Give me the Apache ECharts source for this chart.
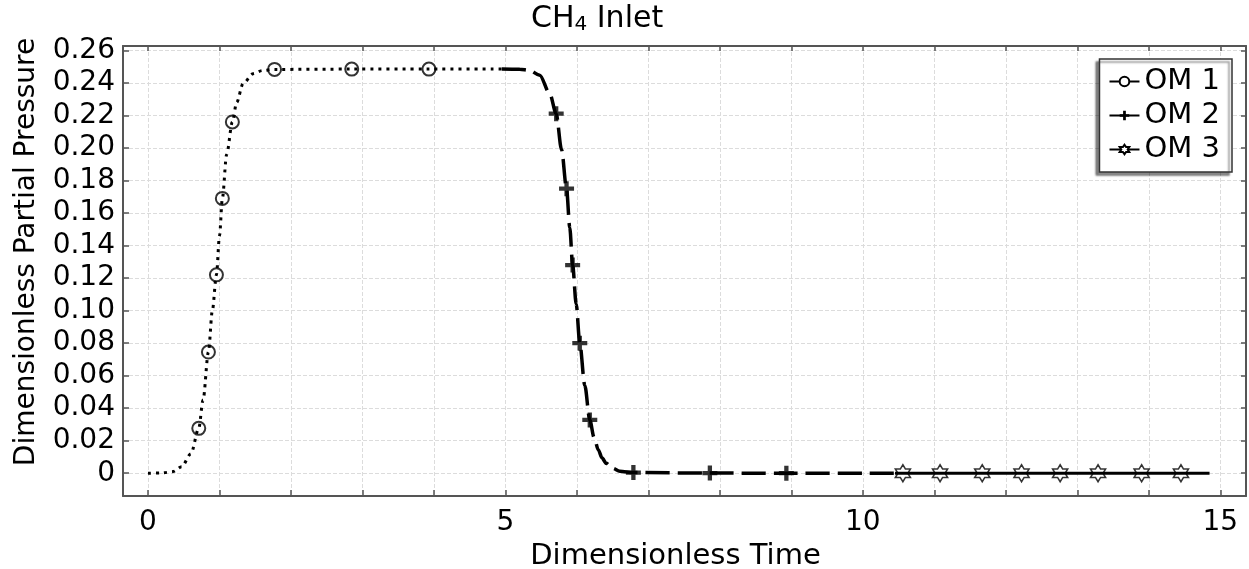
<!DOCTYPE html>
<html>
<head>
<meta charset="utf-8">
<title>CH4 Inlet</title>
<script src="https://cdn.jsdelivr.net/npm/echarts@6/dist/echarts.min.js"></script>
<style>
  html, body { margin: 0; padding: 0; background: #fff; }
  #chart { width: 1249px; height: 569px; }
</style>
</head>
<body>
<div id="chart"></div>
<script>
// series names
var seriesNames = ['OM 1', 'OM 2', 'OM 3'];

// curves: [time, partial pressure]
var om1Curve = [
  [0, 0], [0.2, 0.0002], [0.35, 0.001], [0.47, 0.004], [0.6, 0.012],
  [0.71, 0.0276], [0.77, 0.045], [0.845, 0.0745], [0.9, 0.1], [0.957, 0.122],
  [1.0, 0.146], [1.04, 0.169], [1.1, 0.196], [1.18, 0.216], [1.24, 0.228],
  [1.33, 0.2396], [1.47, 0.2457], [1.6, 0.2476], [1.77, 0.2483], [2.85, 0.2485],
  [3.93, 0.2485], [4.95, 0.2485]
];
var om2Curve = [
  [4.95, 0.2485], [5.2, 0.2484], [5.34, 0.2477], [5.48, 0.2447], [5.62, 0.2334],
  [5.71, 0.2211], [5.785, 0.199], [5.855, 0.175], [5.9, 0.151], [5.94, 0.128],
  [5.99, 0.104], [6.04, 0.08], [6.11, 0.054], [6.18, 0.0328], [6.24, 0.022],
  [6.3, 0.0143], [6.35, 0.0095], [6.41, 0.0061], [6.5, 0.003], [6.6, 0.0012],
  [6.79, 0.0004], [7.86, 0.0001], [8.93, 0], [10.45, 0]
];
var om3Curve = [
  [10.45, 0], [10.56, 0], [11.08, 0], [11.67, 0], [12.22, 0], [12.76, 0],
  [13.29, 0], [13.9, 0], [14.45, 0], [14.85, 0]
];

// which curve points carry a marker
var om1Marks = [5, 7, 9, 11, 13, 18, 19, 20];
var om2Marks = [5, 7, 9, 11, 13, 20, 21, 22];
var om3Marks = [1, 2, 3, 4, 5, 6, 7, 8];

// ticks and labels
var xTicks = [0, 1, 2, 3, 4, 5, 6, 7, 8, 9, 10, 11, 12, 13, 14, 15];
var xLabels = [0, 5, 10, 15];
var yTicks = [0, 0.02, 0.04, 0.06, 0.08, 0.1, 0.12, 0.14, 0.16, 0.18, 0.2, 0.22, 0.24, 0.26];

var FONT = '"DejaVu Sans", sans-serif';
var AXIS = '#555';
var starPath = 'path://M10,0L12.887,5L18.66,5L15.774,10L18.66,15L12.887,15L10,20L7.113,15L1.34,15L4.226,10L1.34,5L7.113,5Z';
var plusPath = 'path://M5,0H9V5H14V9H9V14H5V9H0V5H5Z';

function pick(curve, idx) {
  return idx.map(function (i) { return curve[i]; });
}

var myChart = echarts.init(document.getElementById('chart'));

var option = {
  animation: false,
  backgroundColor: '#fff',
  textStyle: { fontFamily: FONT, color: '#000' },
  title: {
    text: '{a|CH}{s|4}{a| Inlet}',
    left: 531,
    top: 3,
    padding: 0,
    textStyle: {
      fontFamily: FONT, fontSize: 30, fontWeight: 'normal', color: '#000',
      rich: {
        a: { fontFamily: FONT, fontSize: 30, lineHeight: 32, color: '#000' },
        s: { fontFamily: FONT, fontSize: 20, lineHeight: 12, verticalAlign: 'bottom', color: '#000' }
      }
    }
  },
  grid: { left: 123, right: 3, top: 46, bottom: 73, containLabel: false, outerBoundsMode: 'none' },
  legend: {
    data: seriesNames,
    orient: 'vertical',
    right: 17,
    top: 59,
    padding: [8, 12, 8, 9],
    itemWidth: 30,
    itemHeight: 12,
    itemGap: 5,
    backgroundColor: '#fff',
    borderColor: '#333',
    borderWidth: 1.5,
    borderRadius: 0,
    shadowColor: 'rgba(0,0,0,0.45)',
    shadowBlur: 2,
    shadowOffsetX: -3,
    shadowOffsetY: 3,
    lineStyle: { color: '#000', width: 2, type: 'solid' },
    textStyle: { fontFamily: FONT, fontSize: 29, color: '#000' }
  },
  xAxis: [{
    type: 'value',
    min: -0.35,
    max: 15.36,
    name: 'Dimensionless Time',
    nameLocation: 'middle',
    nameGap: 42,
    nameTextStyle: { fontFamily: FONT, fontSize: 29, color: '#000', padding: [0, 18, 0, 0] },
    axisLine: { show: true, onZero: false, lineStyle: { color: AXIS, width: 2 } },
    axisTick: { show: true, inside: true, length: 6, customValues: xTicks, lineStyle: { color: AXIS, width: 1.5 } },
    axisLabel: { customValues: xLabels, fontSize: 28, color: '#000', margin: 13, fontFamily: FONT },
    splitLine: { show: true, lineStyle: { color: '#dcdcdc', width: 1, type: [4, 2] } }
  }, {
    type: 'value',
    position: 'top',
    min: -0.35,
    max: 15.36,
    axisLine: { show: true, onZero: false, lineStyle: { color: AXIS, width: 2 } },
    axisTick: { show: true, inside: true, length: 5, customValues: xTicks, lineStyle: { color: AXIS, width: 1.5 } },
    axisLabel: { show: false },
    splitLine: { show: false }
  }],
  yAxis: [{
    type: 'value',
    min: -0.014,
    max: 0.2627,
    axisLine: { show: true, onZero: false, lineStyle: { color: AXIS, width: 2 } },
    axisTick: { show: true, inside: true, length: 6, customValues: yTicks, lineStyle: { color: AXIS, width: 1.5 } },
    axisLabel: {
      customValues: yTicks,
      fontSize: 28,
      color: '#000',
      margin: 8,
      fontFamily: FONT,
      formatter: function (v) { return v === 0 ? '0' : v.toFixed(2); }
    },
    splitLine: { show: true, lineStyle: { color: '#dcdcdc', width: 1, type: [4, 2] } }
  }, {
    type: 'value',
    position: 'right',
    min: -0.014,
    max: 0.2627,
    axisLine: { show: true, onZero: false, lineStyle: { color: AXIS, width: 2 } },
    axisTick: { show: true, inside: true, length: 5, customValues: yTicks, lineStyle: { color: AXIS, width: 1.5 } },
    axisLabel: { show: false },
    splitLine: { show: false }
  }],
  graphic: [{
    type: 'text',
    x: 27,
    y: 252,
    rotation: Math.PI / 2,
    style: {
      text: 'Dimensionless Partial Pressure',
      font: '28px ' + FONT,
      fill: '#000',
      align: 'center',
      verticalAlign: 'middle'
    }
  }],
  series: [
    {
      name: 'OM 1', type: 'line', data: om1Curve,
      showSymbol: false, symbol: 'emptyCircle',
      smooth: 0.3, smoothMonotone: 'x',
      itemStyle: { color: '#000' },
      lineStyle: { color: '#000', width: 3, type: [3, 5], cap: 'butt' }
    },
    {
      name: 'OM 2', type: 'line', data: om2Curve,
      showSymbol: false, symbol: plusPath,
      smooth: 0.3, smoothMonotone: 'x',
      itemStyle: { color: '#000' },
      lineStyle: { color: '#000', width: 3.5, type: [24, 8], cap: 'butt' }
    },
    {
      name: 'OM 3', type: 'line', data: om3Curve,
      showSymbol: false, symbol: starPath,
      itemStyle: { color: '#fff', borderColor: '#000', borderWidth: 1.5 },
      lineStyle: { color: '#000', width: 3 }
    },
    {
      name: 'OM 1', type: 'scatter', data: pick(om1Curve, om1Marks),
      symbol: 'emptyCircle', symbolSize: 13,
      itemStyle: { color: '#000', borderWidth: 2.2 }
    },
    {
      name: 'OM 2', type: 'scatter', data: pick(om2Curve, om2Marks),
      symbol: plusPath, symbolSize: 15,
      itemStyle: { color: '#000' }
    },
    {
      name: 'OM 3', type: 'scatter', data: pick(om3Curve, om3Marks),
      symbol: starPath, symbolSize: [15, 17],
      itemStyle: { color: '#fff', borderColor: '#000', borderWidth: 1.6 }
    }
  ]
};
myChart.setOption(option);
</script>
</body>
</html>
